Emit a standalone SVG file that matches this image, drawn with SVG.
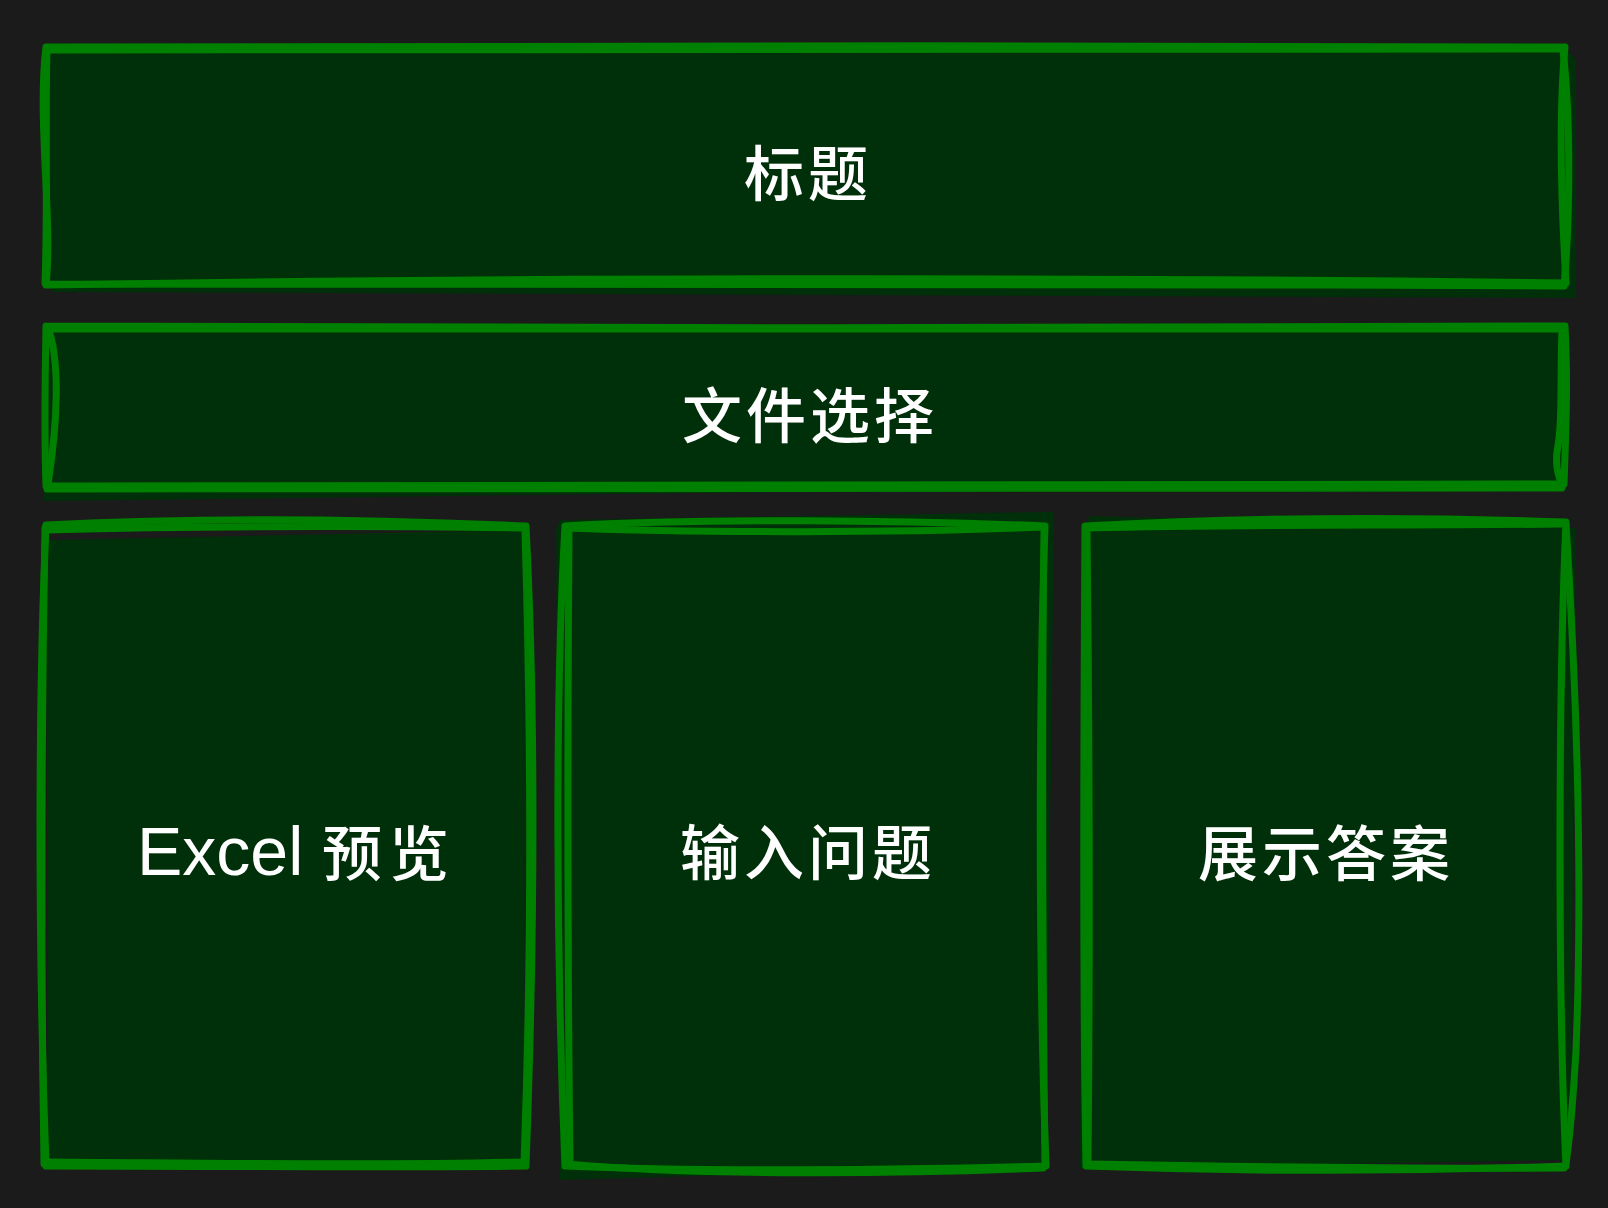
<svg xmlns="http://www.w3.org/2000/svg" width="1608" height="1208" viewBox="0 0 1608 1208">
<style>
.bg{fill:#1b1b1b}
.fill{fill:#003009;stroke:none}
.edge{fill:none;stroke:#008000;stroke-width:7;stroke-linecap:round;stroke-linejoin:round}
.lbl{fill:#ffffff;font-family:"Noto Sans CJK SC","Noto Sans",sans-serif;font-size:60px;font-weight:500;letter-spacing:4px}
.lat{fill:#ffffff;font-family:"Liberation Sans","Noto Sans",sans-serif;font-size:68px}
</style>
<rect class="bg" x="0" y="0" width="1608" height="1208"/>

<g id="node-title">
  <path class="fill" d="M44,50 L1566,48 L1576,60 L1576,298 L52,292 L44,280 Z"/>
  <path class="edge" d="M46,47 C400,46 1100,45 1565,47 M1565,47 C1559,110 1561,200 1566,283 M1566,283 C1100,277 500,277 46,285 M46,285 C53,220 37,120 46,47"/>
  <path class="edge" d="M48,50 C500,53 1000,51 1564,49 M1563,50 C1571,120 1570,220 1564,286 M1562,286 C1000,283 400,284 47,284 M45,283 C48,200 45,120 47,48"/>
  <text class="lbl" x="808" y="196" text-anchor="middle">标题</text>
</g>

<g id="node-file">
  <path class="fill" d="M46,330 L1566,327 L1566,484 L1100,488 L44,501 L44,490 Z"/>
  <path class="edge" d="M46,326 C500,330 1100,327 1565,326 M1565,326 C1568,380 1566,430 1564,484 M1564,484 C1000,480 500,482 46,486 M46,486 C44,430 45,380 46,326"/>
  <path class="edge" d="M48,328 C60,360 58,420 48,484 M47,489 C500,488 1000,486 1562,488 M1562,329 C1560,380 1563,420 1557,452 C1555,470 1560,480 1562,484 M48,329 C600,333 1100,330 1563,329"/>
  <text class="lbl" x="810" y="438" text-anchor="middle">文件选择</text>
</g>

<g id="node-excel">
  <path class="fill" d="M54,540 L526,530 L524,1162 L48,1166 L46,540 Z"/>
  <path class="edge" d="M46,525 C200,517 350,518 526,526 M526,526 C535,700 536,900 526,1166 M526,1166 C380,1168 200,1166 46,1166 M46,1166 C38,950 38,700 46,525"/>
  <path class="edge" d="M48,530 C200,526 380,526 522,528 M525,530 C533,800 530,1000 524,1164 M522,1162 C380,1166 200,1163 48,1162 M44,1164 C40,900 42,700 45,528"/>
  <text x="322" y="876"><tspan class="lat" x="137" y="875">Excel</tspan><tspan class="lbl" x="322" y="876" style="letter-spacing:7px">预览</tspan></text>
</g>

<g id="node-question">
  <path class="fill" d="M560,520 L1054,512 L1046,1166 L560,1180 L556,530 Z"/>
  <path class="edge" d="M565,526 C700,518 900,520 1045,526 M1045,526 C1039,700 1038,950 1046,1166 M1046,1166 C900,1170 700,1172 565,1166 M565,1166 C556,950 555,700 565,526"/>
  <path class="edge" d="M566,528 C700,533 900,533 1043,527 M1044,528 C1041,800 1043,1000 1045,1164 M1043,1168 C900,1174 700,1176 567,1164 M569,528 C567,800 568,1000 570,1162"/>
  <text class="lbl" x="808" y="875" text-anchor="middle">输入问题</text>
</g>

<g id="node-answer">
  <path class="fill" d="M1090,516 L1576,528 L1570,1160 L1080,1168 L1082,530 Z"/>
  <path class="edge" d="M1085,526 C1250,517 1400,516 1566,522 M1566,522 C1558,700 1558,1000 1566,1166 M1566,1166 C1400,1172 1250,1172 1086,1166 M1086,1166 C1082,950 1084,700 1085,526"/>
  <path class="edge" d="M1088,528 C1250,524 1400,526 1562,524 M1566,524 C1574,650 1584,850 1576,1050 C1572,1120 1568,1150 1566,1164 M1564,1168 C1400,1169 1250,1167 1088,1164 M1088,1162 C1090,950 1089,700 1087,530"/>
  <text class="lbl" x="1326" y="876" text-anchor="middle">展示答案</text>
</g>

<g id="connectors"></g>
</svg>
